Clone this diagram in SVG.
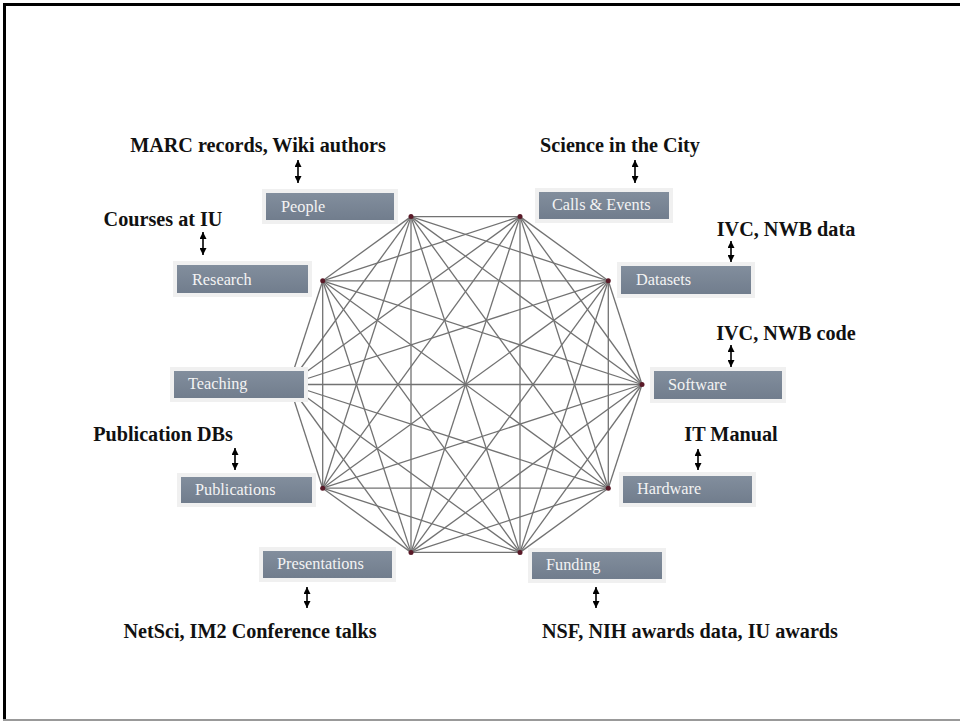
<svg xmlns="http://www.w3.org/2000/svg" width="960" height="721" viewBox="0 0 960 721">
<defs>
<linearGradient id="bg" x1="0" y1="0" x2="0" y2="1">
<stop offset="0" stop-color="#828e9d"/>
<stop offset="1" stop-color="#717d8d"/>
</linearGradient>
<marker id="ah" viewBox="0 0 10 10" refX="10" refY="5" markerWidth="7" markerHeight="7" markerUnits="userSpaceOnUse" orient="auto-start-reverse">
<path d="M0,0 L10,5 L0,10 z" fill="#000"/>
</marker>
<style>
.e{stroke:#727272;stroke-width:1.3;fill:none}
.v{fill:#5a1a28}
.sh{fill:#f0f0f0}
.bx{fill:url(#bg)}
.bt{font-family:"Liberation Serif","DejaVu Serif",serif;font-size:16.3px;fill:#f3f3f3}
.lb{font-family:"Liberation Serif","DejaVu Serif",serif;font-size:20.2px;font-weight:bold;fill:#111;text-anchor:middle}
.ar{stroke:#000;stroke-width:1.6;marker-start:url(#ah);marker-end:url(#ah)}
</style>
</defs>
<rect width="960" height="721" fill="#fff"/>
<g id="frame">
<line x1="3" y1="4.5" x2="960" y2="4.5" stroke="#000" stroke-width="3"/>
<line x1="4.5" y1="3" x2="4.5" y2="721" stroke="#000" stroke-width="3"/>
<line x1="3" y1="720" x2="960" y2="720" stroke="#999" stroke-width="2"/>
</g>
<g id="connectors">
<line class="e" x1="642" y1="384.5" x2="608.3" y2="280.8"/>
<line class="e" x1="642" y1="384.5" x2="520" y2="216.6"/>
<line class="e" x1="642" y1="384.5" x2="411" y2="216.6"/>
<line class="e" x1="642" y1="384.5" x2="322.7" y2="280.8"/>
<line class="e" x1="642" y1="384.5" x2="289" y2="384.5"/>
<line class="e" x1="642" y1="384.5" x2="322.7" y2="488.2"/>
<line class="e" x1="642" y1="384.5" x2="411" y2="552.4"/>
<line class="e" x1="642" y1="384.5" x2="520" y2="552.4"/>
<line class="e" x1="642" y1="384.5" x2="608.3" y2="488.2"/>
<line class="e" x1="608.3" y1="280.8" x2="520" y2="216.6"/>
<line class="e" x1="608.3" y1="280.8" x2="411" y2="216.6"/>
<line class="e" x1="608.3" y1="280.8" x2="322.7" y2="280.8"/>
<line class="e" x1="608.3" y1="280.8" x2="289" y2="384.5"/>
<line class="e" x1="608.3" y1="280.8" x2="322.7" y2="488.2"/>
<line class="e" x1="608.3" y1="280.8" x2="411" y2="552.4"/>
<line class="e" x1="608.3" y1="280.8" x2="520" y2="552.4"/>
<line class="e" x1="608.3" y1="280.8" x2="608.3" y2="488.2"/>
<line class="e" x1="520" y1="216.6" x2="411" y2="216.6"/>
<line class="e" x1="520" y1="216.6" x2="322.7" y2="280.8"/>
<line class="e" x1="520" y1="216.6" x2="289" y2="384.5"/>
<line class="e" x1="520" y1="216.6" x2="322.7" y2="488.2"/>
<line class="e" x1="520" y1="216.6" x2="411" y2="552.4"/>
<line class="e" x1="520" y1="216.6" x2="520" y2="552.4"/>
<line class="e" x1="520" y1="216.6" x2="608.3" y2="488.2"/>
<line class="e" x1="411" y1="216.6" x2="322.7" y2="280.8"/>
<line class="e" x1="411" y1="216.6" x2="289" y2="384.5"/>
<line class="e" x1="411" y1="216.6" x2="322.7" y2="488.2"/>
<line class="e" x1="411" y1="216.6" x2="411" y2="552.4"/>
<line class="e" x1="411" y1="216.6" x2="520" y2="552.4"/>
<line class="e" x1="411" y1="216.6" x2="608.3" y2="488.2"/>
<line class="e" x1="322.7" y1="280.8" x2="289" y2="384.5"/>
<line class="e" x1="322.7" y1="280.8" x2="322.7" y2="488.2"/>
<line class="e" x1="322.7" y1="280.8" x2="411" y2="552.4"/>
<line class="e" x1="322.7" y1="280.8" x2="520" y2="552.4"/>
<line class="e" x1="322.7" y1="280.8" x2="608.3" y2="488.2"/>
<line class="e" x1="289" y1="384.5" x2="322.7" y2="488.2"/>
<line class="e" x1="289" y1="384.5" x2="411" y2="552.4"/>
<line class="e" x1="289" y1="384.5" x2="520" y2="552.4"/>
<line class="e" x1="289" y1="384.5" x2="608.3" y2="488.2"/>
<line class="e" x1="322.7" y1="488.2" x2="411" y2="552.4"/>
<line class="e" x1="322.7" y1="488.2" x2="520" y2="552.4"/>
<line class="e" x1="322.7" y1="488.2" x2="608.3" y2="488.2"/>
<line class="e" x1="411" y1="552.4" x2="520" y2="552.4"/>
<line class="e" x1="411" y1="552.4" x2="608.3" y2="488.2"/>
<line class="e" x1="520" y1="552.4" x2="608.3" y2="488.2"/>
</g>
<g id="vertices">
<circle class="v" cx="642" cy="384.5" r="2.5"/>
<circle class="v" cx="608.3" cy="280.8" r="2.5"/>
<circle class="v" cx="520" cy="216.6" r="2.5"/>
<circle class="v" cx="411" cy="216.6" r="2.5"/>
<circle class="v" cx="322.7" cy="280.8" r="2.5"/>
<circle class="v" cx="289" cy="384.5" r="2.5"/>
<circle class="v" cx="322.7" cy="488.2" r="2.5"/>
<circle class="v" cx="411" cy="552.4" r="2.5"/>
<circle class="v" cx="520" cy="552.4" r="2.5"/>
<circle class="v" cx="608.3" cy="488.2" r="2.5"/>
</g>
<g id="people">
<rect class="sh" x="262" y="189" width="136" height="35"/>
<rect class="bx" x="266" y="193" width="128" height="27"/>
<text class="bt" x="281" y="212">People</text>
</g>
<g id="calls-events">
<rect class="sh" x="535" y="188" width="138" height="35"/>
<rect class="bx" x="539" y="192" width="130" height="27"/>
<text class="bt" x="552" y="210">Calls &amp; Events</text>
</g>
<g id="research">
<rect class="sh" x="173" y="261" width="139" height="36"/>
<rect class="bx" x="177" y="265" width="131" height="28"/>
<text class="bt" x="192" y="285">Research</text>
</g>
<g id="datasets">
<rect class="sh" x="617" y="262" width="138" height="36"/>
<rect class="bx" x="621" y="266" width="130" height="28"/>
<text class="bt" x="636" y="285">Datasets</text>
</g>
<g id="teaching">
<rect class="sh" x="170" y="367" width="138" height="35"/>
<rect class="bx" x="174" y="371" width="130" height="27"/>
<text class="bt" x="188" y="389">Teaching</text>
</g>
<g id="software">
<rect class="sh" x="650" y="367" width="136" height="36"/>
<rect class="bx" x="654" y="371" width="128" height="28"/>
<text class="bt" x="668" y="390">Software</text>
</g>
<g id="publications">
<rect class="sh" x="177" y="473" width="139" height="34"/>
<rect class="bx" x="181" y="477" width="131" height="26"/>
<text class="bt" x="195" y="495">Publications</text>
</g>
<g id="hardware">
<rect class="sh" x="619" y="472" width="137" height="35"/>
<rect class="bx" x="623" y="476" width="129" height="27"/>
<text class="bt" x="637" y="494">Hardware</text>
</g>
<g id="presentations">
<rect class="sh" x="259" y="547" width="137" height="35"/>
<rect class="bx" x="263" y="551" width="129" height="27"/>
<text class="bt" x="277" y="569">Presentations</text>
</g>
<g id="funding">
<rect class="sh" x="528" y="548" width="138" height="35"/>
<rect class="bx" x="532" y="552" width="130" height="27"/>
<text class="bt" x="546" y="570">Funding</text>
</g>
<g id="label-people">
<text class="lb" x="258" y="152">MARC records, Wiki authors</text>
<line class="ar" x1="298" y1="160" x2="298" y2="183"/>
</g>
<g id="label-calls">
<text class="lb" x="620" y="152">Science in the City</text>
<line class="ar" x1="635" y1="160" x2="635" y2="183"/>
</g>
<g id="label-research">
<text class="lb" x="163" y="226">Courses at IU</text>
<line class="ar" x1="203" y1="232" x2="203" y2="255"/>
</g>
<g id="label-datasets">
<text class="lb" x="786" y="236">IVC, NWB data</text>
<line class="ar" x1="731" y1="241" x2="731" y2="262"/>
</g>
<g id="label-software">
<text class="lb" x="786" y="340">IVC, NWB code</text>
<line class="ar" x1="731" y1="345" x2="731" y2="367"/>
</g>
<g id="label-publications">
<text class="lb" x="163" y="441">Publication DBs</text>
<line class="ar" x1="235" y1="448" x2="235" y2="470"/>
</g>
<g id="label-hardware">
<text class="lb" x="731" y="441">IT Manual</text>
<line class="ar" x1="698" y1="449" x2="698" y2="470"/>
</g>
<g id="label-presentations">
<text class="lb" x="250" y="638">NetSci, IM2 Conference talks</text>
<line class="ar" x1="307" y1="587" x2="307" y2="608"/>
</g>
<g id="label-funding">
<text class="lb" x="690" y="638">NSF, NIH awards data, IU awards</text>
<line class="ar" x1="596" y1="587" x2="596" y2="608"/>
</g>
</svg>
